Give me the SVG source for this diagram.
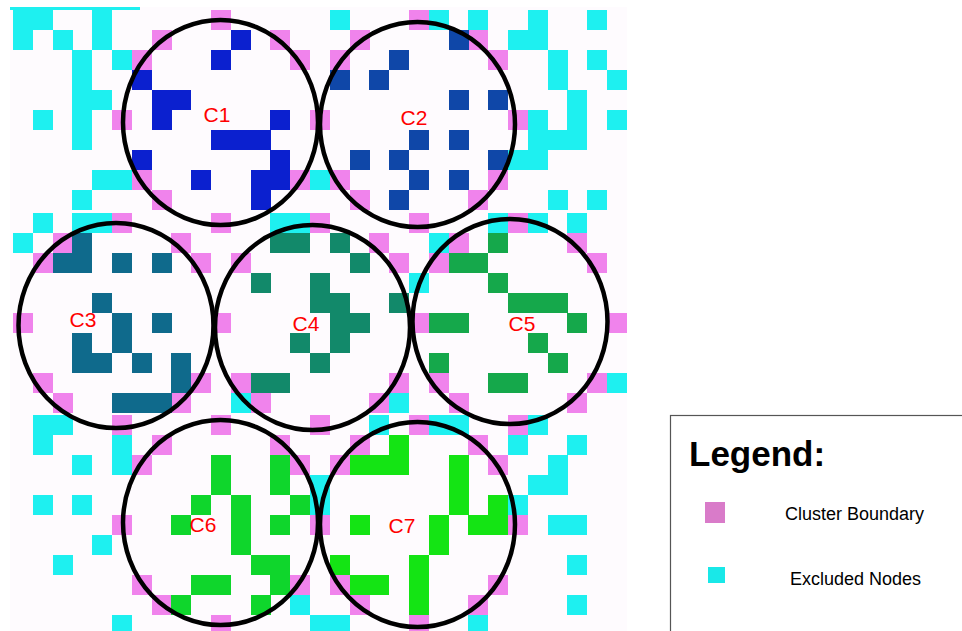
<svg xmlns="http://www.w3.org/2000/svg" width="962" height="631" viewBox="0 0 962 631">
<style>
.cy{fill:#1ef0f0}
.pk{fill:#f083ec}
.c1{fill:#0b20cf}
.c2{fill:#0f47a8}
.c3{fill:#0f6a8c}
.c4{fill:#12896a}
.c5{fill:#15a84b}
.c6{fill:#0fd62c}
.c7{fill:#14e414}
.ring{fill:none;stroke:#000;stroke-width:4.5}
.lbl{font-family:"Liberation Sans",Arial,sans-serif;font-size:21px;fill:#ff0000;text-anchor:middle}
.lg{font-family:"Liberation Sans",Arial,sans-serif;fill:#000}
</style>
<rect width="962" height="631" fill="#ffffff"/>
<rect x="10" y="7" width="617" height="624" fill="#fefbfe"/>
<g id="excluded">
<path class="cy" d="M10 7h130v3h-130zM13 10h20v20h-20zM33 10h20v20h-20zM13 30h20v20h-20zM53 30h20v20h-20zM92 10h20v20h-20zM92 30h20v20h-20zM72 50h20v20h-20zM112 50h20v20h-20zM72 70h20v20h-20zM72 90h20v20h-20zM92 90h20v20h-20zM72 110h20v20h-20zM72 130h20v20h-20zM33 110h20v20h-20zM92 170h20v20h-20zM112 170h20v20h-20zM72 190h20v20h-20zM330 10h20v20h-20zM429 10h20v20h-20zM468 10h20v20h-20zM528 10h20v20h-20zM508 30h20v20h-20zM528 30h20v20h-20zM548 50h20v20h-20zM548 70h20v20h-20zM587 10h20v20h-20zM587 50h20v20h-20zM607 70h20v20h-20zM567 90h20v20h-20zM567 110h20v20h-20zM567 130h20v20h-20zM528 130h20v20h-20zM548 130h20v20h-20zM528 110h20v20h-20zM508 150h20v20h-20zM528 150h20v20h-20zM607 110h20v20h-20zM548 190h20v20h-20zM587 190h20v20h-20zM310 170h20v20h-20z"/>
<path class="cy" d="M72 213h20v20h-20zM92 213h20v20h-20zM33 213h20v20h-20zM13 233h20v20h-20zM270 213h20v20h-20zM290 213h20v20h-20zM231 393h20v20h-20zM567 213h20v20h-20zM488 213h20v20h-20zM528 213h20v20h-20zM429 233h20v20h-20zM409 273h20v20h-20zM607 373h20v20h-20zM389 393h20v20h-20z"/>
<path class="cy" d="M33 415h20v20h-20zM53 415h20v20h-20zM33 435h20v20h-20zM112 435h20v20h-20zM112 455h20v20h-20zM72 455h20v20h-20zM33 495h20v20h-20zM72 495h20v20h-20zM92 535h20v20h-20zM53 555h20v20h-20zM290 595h20v20h-20zM310 475h20v20h-20zM310 495h20v20h-20zM112 615h20v20h-20zM429 415h20v20h-20zM449 415h20v20h-20zM369 415h20v20h-20zM528 415h20v20h-20zM508 435h20v20h-20zM567 435h20v20h-20zM548 455h20v20h-20zM528 475h20v20h-20zM548 475h20v20h-20zM508 495h20v20h-20zM548 515h20v20h-20zM567 515h20v20h-20zM567 555h20v20h-20zM567 595h20v20h-20zM468 615h20v20h-20zM310 615h20v20h-20zM330 615h20v20h-20z"/>
</g>
<g id="boundary">
<path class="pk" d="M152 30h20v20h-20zM211 10h20v20h-20zM270 30h20v20h-20zM290 50h20v20h-20zM112 110h20v20h-20zM132 50h20v20h-20zM310 110h20v20h-20zM132 170h20v20h-20zM152 190h20v20h-20zM290 170h20v20h-20zM350 30h20v20h-20zM330 50h20v20h-20zM468 30h20v20h-20zM488 50h20v20h-20zM508 110h20v20h-20zM330 170h20v20h-20zM350 190h20v20h-20zM468 190h20v20h-20zM488 170h20v20h-20zM409 10h20v20h-20z"/>
<path class="pk" d="M112 213h20v20h-20zM53 233h20v20h-20zM33 253h20v20h-20zM171 233h20v20h-20zM191 253h20v20h-20zM231 253h20v20h-20zM211 213h20v20h-20zM13 313h20v20h-20zM211 313h20v20h-20zM33 373h20v20h-20zM53 393h20v20h-20zM191 373h20v20h-20zM171 393h20v20h-20zM231 373h20v20h-20zM251 393h20v20h-20zM310 213h20v20h-20zM409 213h20v20h-20zM508 213h20v20h-20zM567 233h20v20h-20zM587 253h20v20h-20zM449 233h20v20h-20zM389 253h20v20h-20zM369 233h20v20h-20zM429 253h20v20h-20zM409 313h20v20h-20zM607 313h20v20h-20zM587 373h20v20h-20zM567 393h20v20h-20zM389 373h20v20h-20zM369 393h20v20h-20zM429 373h20v20h-20zM449 393h20v20h-20z"/>
<path class="pk" d="M112 415h20v20h-20zM152 435h20v20h-20zM132 455h20v20h-20zM211 415h20v20h-20zM270 435h20v20h-20zM290 455h20v20h-20zM112 515h20v20h-20zM132 575h20v20h-20zM152 595h20v20h-20zM211 615h20v20h-20zM290 575h20v20h-20zM310 515h20v20h-20zM310 415h20v20h-20zM409 415h20v20h-20zM508 415h20v20h-20zM350 435h20v20h-20zM468 435h20v20h-20zM330 455h20v20h-20zM488 455h20v20h-20zM508 515h20v20h-20zM488 575h20v20h-20zM468 595h20v20h-20zM330 575h20v20h-20zM350 595h20v20h-20zM409 615h20v20h-20z"/>
</g>
<g id="cluster-C1">
<path class="c1" d="M231 30h20v20h-20zM211 50h20v20h-20zM132 70h20v20h-20zM152 90h20v20h-20zM171 90h20v20h-20zM152 110h20v20h-20zM270 110h20v20h-20zM211 130h20v20h-20zM231 130h20v20h-20zM251 130h20v20h-20zM132 150h20v20h-20zM270 150h20v20h-20zM191 170h20v20h-20zM251 170h20v20h-20zM270 170h20v20h-20zM251 190h20v20h-20z"/>
<ellipse class="ring" cx="220.5" cy="122.5" rx="97.5" ry="102.5"/>
<text class="lbl" x="217" y="122">C1</text>
</g>
<g id="cluster-C2">
<path class="c2" d="M389 50h20v20h-20zM369 70h20v20h-20zM330 70h20v20h-20zM449 30h20v20h-20zM449 90h20v20h-20zM488 90h20v20h-20zM409 130h20v20h-20zM449 130h20v20h-20zM350 150h20v20h-20zM389 150h20v20h-20zM488 150h20v20h-20zM409 170h20v20h-20zM449 170h20v20h-20zM389 190h20v20h-20z"/>
<ellipse class="ring" cx="417.5" cy="124.5" rx="97.5" ry="102.5"/>
<text class="lbl" x="414" y="125">C2</text>
</g>
<g id="cluster-C3">
<path class="c3" d="M72 233h20v20h-20zM53 253h20v20h-20zM72 253h20v20h-20zM112 253h20v20h-20zM152 253h20v20h-20zM92 293h20v20h-20zM112 313h20v20h-20zM152 313h20v20h-20zM112 333h20v20h-20zM72 333h20v20h-20zM72 353h20v20h-20zM92 353h20v20h-20zM132 353h20v20h-20zM171 353h20v20h-20zM171 373h20v20h-20zM112 393h20v20h-20zM132 393h20v20h-20zM152 393h20v20h-20z"/>
<ellipse class="ring" cx="116" cy="325.5" rx="97.5" ry="102.5"/>
<text class="lbl" x="83" y="327">C3</text>
</g>
<g id="cluster-C4">
<path class="c4" d="M270 233h20v20h-20zM290 233h20v20h-20zM330 233h20v20h-20zM350 253h20v20h-20zM251 273h20v20h-20zM310 273h20v20h-20zM310 293h20v20h-20zM330 293h20v20h-20zM389 293h20v20h-20zM330 313h20v20h-20zM350 313h20v20h-20zM290 333h20v20h-20zM330 333h20v20h-20zM310 353h20v20h-20zM251 373h20v20h-20zM270 373h20v20h-20z"/>
<ellipse class="ring" cx="312.5" cy="327.5" rx="97.5" ry="102.5"/>
<text class="lbl" x="306" y="331">C4</text>
</g>
<g id="cluster-C5">
<path class="c5" d="M488 233h20v20h-20zM449 253h20v20h-20zM468 253h20v20h-20zM488 273h20v20h-20zM508 293h20v20h-20zM528 293h20v20h-20zM548 293h20v20h-20zM429 313h20v20h-20zM449 313h20v20h-20zM567 313h20v20h-20zM528 333h20v20h-20zM429 353h20v20h-20zM548 353h20v20h-20zM488 373h20v20h-20zM508 373h20v20h-20z"/>
<ellipse class="ring" cx="510" cy="321.5" rx="97.5" ry="102.5"/>
<text class="lbl" x="522" y="331">C5</text>
</g>
<g id="cluster-C6">
<path class="c6" d="M211 455h20v20h-20zM211 475h20v20h-20zM191 495h20v20h-20zM171 515h20v20h-20zM231 495h20v20h-20zM231 515h20v20h-20zM231 535h20v20h-20zM270 455h20v20h-20zM270 475h20v20h-20zM290 495h20v20h-20zM270 515h20v20h-20zM251 555h20v20h-20zM270 555h20v20h-20zM270 575h20v20h-20zM191 575h20v20h-20zM211 575h20v20h-20zM171 595h20v20h-20zM251 595h20v20h-20z"/>
<ellipse class="ring" cx="220.5" cy="522.5" rx="97.5" ry="102.5"/>
<text class="lbl" x="203" y="532">C6</text>
</g>
<g id="cluster-C7">
<path class="c7" d="M389 435h20v20h-20zM350 455h20v20h-20zM369 455h20v20h-20zM389 455h20v20h-20zM449 455h20v20h-20zM449 475h20v20h-20zM449 495h20v20h-20zM488 495h20v20h-20zM468 515h20v20h-20zM488 515h20v20h-20zM429 515h20v20h-20zM429 535h20v20h-20zM350 515h20v20h-20zM409 555h20v20h-20zM409 575h20v20h-20zM409 595h20v20h-20zM330 555h20v20h-20zM350 575h20v20h-20zM369 575h20v20h-20z"/>
<ellipse class="ring" cx="417.5" cy="524.5" rx="97.5" ry="102.5"/>
<text class="lbl" x="402" y="533">C7</text>
</g>
<g id="legend">
<rect x="670.5" y="415.5" width="310" height="230" fill="#ffffff" stroke="#555555" stroke-width="1.2"/>
<text class="lg" x="689" y="466" font-size="35" font-weight="bold">Legend:</text>
<rect x="705" y="502" width="20" height="21" fill="#d97bc9"/>
<text class="lg" x="785" y="520" font-size="18">Cluster Boundary</text>
<rect x="708" y="567" width="17" height="16" fill="#19e8e8"/>
<text class="lg" x="790" y="585" font-size="18">Excluded Nodes</text>
</g>
</svg>
